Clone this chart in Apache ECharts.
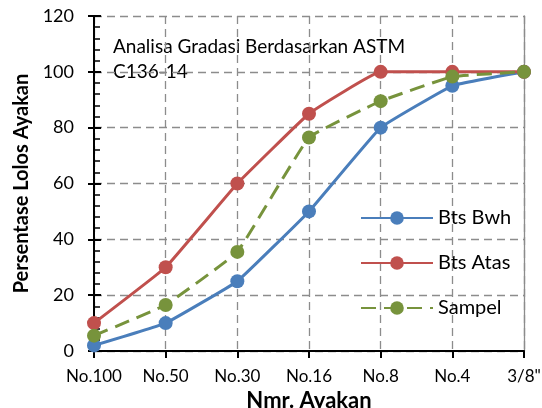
<!DOCTYPE html>
<html><head><meta charset="utf-8">
<script src="https://cdn.jsdelivr.net/npm/echarts@6/dist/echarts.min.js"></script>
<style>html,body{margin:0;padding:0;background:#fff}#c{width:542px;height:408px}</style>
</head><body><div id="c"></div>
<script>
const categories = ['No.100','No.50','No.30','No.16','No.8','No.4','3/8"'];
const btsBwh = [2, 10, 25, 50, 80, 95, 100];
const btsAtas = [10, 30, 60, 85, 100, 100, 100];
const sampel = [5.5, 16.5, 35.5, 76.5, 89.5, 98.3, 100];
const yTicks = {min: 0, max: 120, interval: 20};
const FONT = 'Lato';
const chart = echarts.init(document.getElementById('c'));
const gridColor = '#8c8c8c';
function series(name, data, color, dashed) {
  return {
    name, type: 'line', data, smooth: 0.08, symbol: 'circle', symbolSize: 14,
    lineStyle: {color, width: 3, type: dashed ? [15, 8] : 'solid'},
    itemStyle: {color}, z: dashed ? 4 : 3
  };
}
chart.setOption({
  animation: false,
  textStyle: {fontFamily: FONT},
  grid: {left: 94, right: 18, top: 16, bottom: 57, outerBoundsMode: 'none', containLabel: false},
  xAxis: {
    type: 'category', data: categories, boundaryGap: false,
    name: 'Nmr. Ayakan', nameLocation: 'middle', nameGap: 34,
    nameTextStyle: {fontFamily: FONT, fontSize: 22, fontWeight: 'bold', color: '#000'},
    axisLine: {lineStyle: {color: '#000', width: 2}},
    axisTick: {show: true, interval: 0, length: 7, lineStyle: {color: '#000', width: 2}},
    axisLabel: {fontFamily: FONT, fontSize: 17, color: '#000', margin: 17, interval: 0, hideOverlap: false},
    splitLine: {show: true, interval: 0, lineStyle: {color: gridColor, type: [8, 5], width: 1.3}}
  },
  yAxis: [{
    type: 'value', min: yTicks.min, max: yTicks.max, interval: yTicks.interval,
    name: 'Persentase Lolos Ayakan', nameLocation: 'middle', nameGap: 62,
    nameTextStyle: {fontFamily: FONT, fontSize: 20, fontWeight: 'bold', color: '#000'},
    axisLine: {show: true, lineStyle: {color: '#000', width: 2}},
    axisTick: {show: true, length: 6, lineStyle: {color: '#000', width: 2}},
    axisLabel: {fontFamily: FONT, fontSize: 18, color: '#000', margin: 20},
    splitLine: {show: true, lineStyle: {color: gridColor, type: [8, 5], width: 1.3}}
  }, {
    type: 'value', position: 'left', min: yTicks.min, max: yTicks.max, interval: yTicks.interval,
    axisLine: {show: true, lineStyle: {color: '#000', width: 2}},
    axisTick: {show: true, inside: true, length: 7, lineStyle: {color: '#000', width: 2}},
    minorTick: {show: true, splitNumber: 5, length: 6, lineStyle: {color: '#000', width: 1.5}},
    axisLabel: {show: false}, splitLine: {show: false}
  }, {
    type: 'value', position: 'right', min: yTicks.min, max: yTicks.max, interval: yTicks.interval,
    axisLine: {show: true, lineStyle: {color: gridColor, width: 1.3}},
    axisTick: {show: false}, axisLabel: {show: false}, splitLine: {show: false}
  }],
  legend: {
    orient: 'vertical', left: 355, top: 203, itemGap: 25,
    itemWidth: 72, itemHeight: 17,
    textStyle: {fontFamily: FONT, fontSize: 20, color: '#000', padding: [0, 0, 0, 0]},
    data: ['Bts Bwh', 'Bts Atas', 'Sampel']
  },
  graphic: [
    {type: 'text', left: 113, top: 37, style: {text: 'Analisa Gradasi Berdasarkan ASTM', font: '19px ' + FONT, fill: '#000'}},
    {type: 'text', left: 113, top: 62, style: {text: 'C136-14', font: '19px ' + FONT, fill: '#000'}}
  ],
  series: [
    series('Bts Bwh', btsBwh, '#4a7ebb', false),
    series('Bts Atas', btsAtas, '#c0504d', false),
    series('Sampel', sampel, '#77933c', true)
  ]
});
</script></body></html>
